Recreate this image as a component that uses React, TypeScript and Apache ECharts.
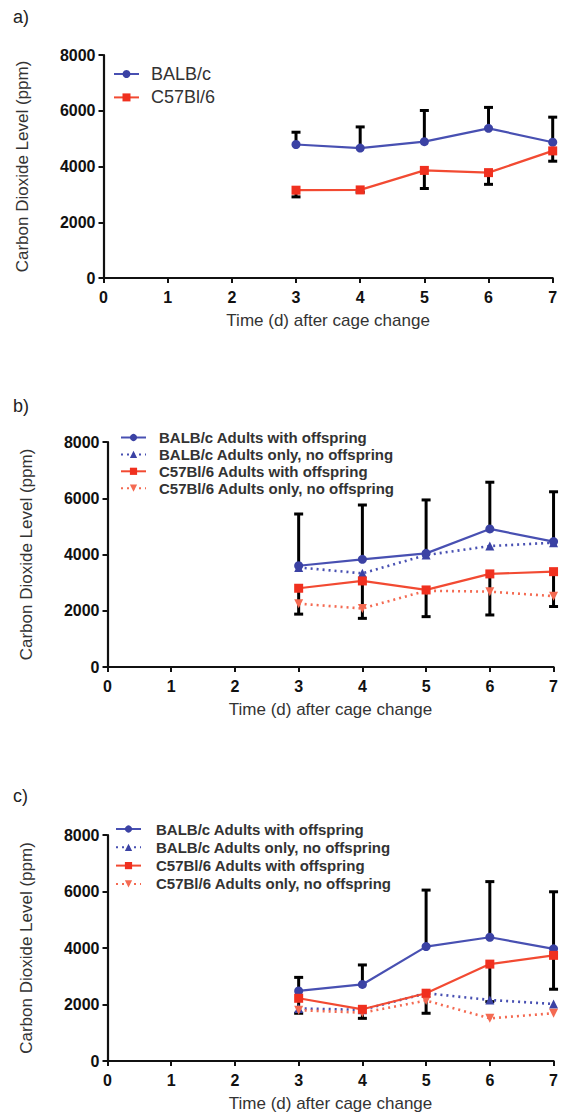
import React, { useEffect, useRef } from "react";
import * as echarts from "echarts";

// ---------- data ----------
const days = [3, 4, 5, 6, 7];
const xTicks = [0, 1, 2, 3, 4, 5, 6, 7];
const yTicks = [0, 2000, 4000, 6000, 8000];

const nameA1 = "BALB/c";
const nameA2 = "C57Bl/6";
const aBalb = [4790, 4660, 4890, 5370, 4870];
const aBalbUpper = [5230, 5420, 6010, 6120, 5770];
const aC57 = [3150, 3160, 3860, 3780, 4560];
const aC57Lower = [2910, 3080, 3210, 3360, 4190];

const nameB1 = "BALB/c Adults with offspring";
const nameB2 = "BALB/c Adults only, no offspring";
const nameB3 = "C57Bl/6 Adults with offspring";
const nameB4 = "C57Bl/6 Adults only, no offspring";

const bBalbWith = [3600, 3830, 4040, 4910, 4460];
const bBalbWithUpper = [5440, 5760, 5940, 6570, 6230];
const bBalbOnly = [3540, 3330, 3980, 4300, 4420];
const bC57With = [2800, 3060, 2740, 3310, 3390];
const bC57WithLower = [1880, 1730, 1790, 1850, 2150];
const bC57Only = [2250, 2080, 2710, 2680, 2520];

const cBalbWith = [2480, 2710, 4050, 4380, 3970];
const cBalbWithUpper = [2960, 3400, 6050, 6350, 5990];
const cBalbOnly = [1860, 1810, 2400, 2160, 2020];
const cC57With = [2220, 1830, 2400, 3430, 3740];
const cC57WithLower = [1690, 1510, 1690, 2100, 2540];
const cC57Only = [1800, 1710, 2140, 1510, 1690];

const panelLabels = ["a)", "b)", "c)"];
const xTitle = "Time (d) after cage change";
const yTitle = "Carbon Dioxide Level (ppm)";

// ---------- styles ----------
const FONT = "'Liberation Sans', Arial, sans-serif";
const BLUE = "#3b42a4";
const BLUE_LINE = "#4850b2";
const RED = "#f0301f";
const RED_LINE = "#f24a32";
const RED_DOT = "#f46a52";

const pairs = (ys: number[]) => days.map((d, i) => [d, ys[i]]);
const errData = (ys: number[], ends: number[]) => days.map((d, i) => [d, ys[i], ends[i]]);

function errSeries(idx: number, ys: number[], ends: number[]) {
  return {
    type: "custom",
    xAxisIndex: idx,
    yAxisIndex: idx,
    z: 1,
    silent: true,
    clip: false,
    encode: { x: 0, y: [1, 2] },
    data: errData(ys, ends),
    renderItem: (params: any, api: any) => {
      const p0 = api.coord([api.value(0), api.value(1)]);
      const p1 = api.coord([api.value(0), api.value(2)]);
      const st = { stroke: "#000", lineWidth: 3 };
      return {
        type: "group",
        children: [
          { type: "line", shape: { x1: p0[0], y1: p0[1], x2: p1[0], y2: p1[1] }, style: st },
          { type: "line", shape: { x1: p1[0] - 4.5, y1: p1[1], x2: p1[0] + 4.5, y2: p1[1] }, style: st },
        ],
      };
    },
  };
}

function lineSeries(idx: number, name: string, ys: number[], kind: "blue" | "blueDot" | "red" | "redDot") {
  const base: any = {
    type: "line",
    name,
    xAxisIndex: idx,
    yAxisIndex: idx,
    data: pairs(ys),
    z: 3,
    clip: false,
  };
  if (kind === "blue") {
    base.symbol = "circle";
    base.symbolSize = 9;
    base.itemStyle = { color: BLUE };
    base.lineStyle = { color: BLUE_LINE, width: 2.2 };
  } else if (kind === "blueDot") {
    base.symbol = "triangle";
    base.symbolSize = 9;
    base.itemStyle = { color: BLUE };
    base.lineStyle = { color: BLUE_LINE, width: 2.6, type: [2, 4] };
  } else if (kind === "red") {
    base.symbol = "rect";
    base.symbolSize = 9;
    base.itemStyle = { color: RED };
    base.lineStyle = { color: RED_LINE, width: 2.2 };
  } else {
    base.symbol = "triangle";
    base.symbolRotate = 180;
    base.symbolSize = 9;
    base.itemStyle = { color: RED_DOT };
    base.lineStyle = { color: RED_DOT, width: 2.6, type: [2, 4] };
  }
  return base;
}

const grids = [
  { left: 103.5, right: 8.3, top: 55, height: 223 },
  { left: 107.5, right: 4.3, top: 442, height: 225 },
  { left: 107.5, right: 4.3, top: 835, height: 226 },
];

function xAxis(idx: number) {
  return {
    type: "value",
    gridIndex: idx,
    min: 0,
    max: 7,
    interval: 1,
    splitLine: { show: false },
    axisLine: { show: true, lineStyle: { color: "#111", width: 2.2 } },
    axisTick: { show: true, length: 5, lineStyle: { color: "#111", width: 2 } },
    axisLabel: {
      margin: 11,
      fontFamily: FONT,
      fontSize: 16,
      fontWeight: "bold",
      color: "#111",
      formatter: (v: number) => (xTicks.includes(v) ? String(v) : ""),
    },
    name: xTitle,
    nameLocation: "middle",
    nameGap: 34,
    nameTextStyle: { fontFamily: FONT, fontSize: 17, color: "#333" },
  };
}

function yAxis(idx: number) {
  return {
    type: "value",
    gridIndex: idx,
    min: 0,
    max: 8000,
    interval: 2000,
    splitLine: { show: false },
    axisLine: { show: true, lineStyle: { color: "#111", width: 2.2 } },
    axisTick: { show: true, length: 5, lineStyle: { color: "#111", width: 2 } },
    axisLabel: {
      margin: 8,
      fontFamily: FONT,
      fontSize: 16,
      fontWeight: "bold",
      color: "#111",
      formatter: (v: number) => (yTicks.includes(v) ? String(v) : ""),
    },
    name: yTitle,
    nameLocation: "middle",
    nameGap: 73,
    nameTextStyle: { fontFamily: FONT, fontSize: 17, color: "#333" },
  };
}

export default function App() {
  const ref = useRef<HTMLDivElement>(null);
  useEffect(() => {
    if (!ref.current) return;
    const chart = echarts.init(ref.current, undefined, { renderer: "svg" });
    const option: any = {
      animation: false,
      backgroundColor: "#fff",
      grid: grids,
      xAxis: [xAxis(0), xAxis(1), xAxis(2)],
      yAxis: [yAxis(0), yAxis(1), yAxis(2)],
      legend: [
        {
          data: [nameA1, nameA2],
          orient: "vertical",
          left: 113,
          top: 65,
          padding: 0,
          itemWidth: 25,
          itemHeight: 10,
          itemGap: 5.4,
          selectedMode: false,
          textStyle: { fontFamily: FONT, fontSize: 18, color: "#333", padding: [0, 0, 0, 7] },
        },
        {
          data: [nameB1, nameB2, nameB3, nameB4],
          orient: "vertical",
          left: 120,
          top: 430,
          padding: 0,
          itemWidth: 25,
          itemHeight: 9,
          itemGap: 1.9,
          selectedMode: false,
          textStyle: { fontFamily: FONT, fontSize: 15, fontWeight: "bold", color: "#333", padding: [0, 0, 0, 8] },
        },
        {
          data: [nameB1, nameB2, nameB3, nameB4],
          orient: "vertical",
          left: 115,
          top: 821.5,
          padding: 0,
          itemWidth: 25,
          itemHeight: 9,
          itemGap: 3.3,
          selectedMode: false,
          textStyle: { fontFamily: FONT, fontSize: 15, fontWeight: "bold", color: "#333", padding: [0, 0, 0, 10] },
        },
      ],
      graphic: panelLabels.map((t, i) => ({
        type: "text",
        left: 13,
        top: [8, 397, 787][i],
        style: { text: t, fontFamily: FONT, fontSize: 18, fill: "#222" },
      })),
      series: [
        errSeries(0, aBalb, aBalbUpper),
        errSeries(0, aC57, aC57Lower),
        lineSeries(0, nameA1, aBalb, "blue"),
        lineSeries(0, nameA2, aC57, "red"),

        errSeries(1, bBalbWith, bBalbWithUpper),
        errSeries(1, bC57With, bC57WithLower),
        lineSeries(1, nameB2, bBalbOnly, "blueDot"),
        lineSeries(1, nameB4, bC57Only, "redDot"),
        lineSeries(1, nameB1, bBalbWith, "blue"),
        lineSeries(1, nameB3, bC57With, "red"),

        errSeries(2, cBalbWith, cBalbWithUpper),
        errSeries(2, cC57With, cC57WithLower),
        lineSeries(2, nameB2, cBalbOnly, "blueDot"),
        lineSeries(2, nameB4, cC57Only, "redDot"),
        lineSeries(2, nameB1, cBalbWith, "blue"),
        lineSeries(2, nameB3, cC57With, "red"),
      ],
    };
    chart.setOption(option);
    return () => chart.dispose();
  }, []);
  return (
    <div
      ref={ref}
      style={{ position: "absolute", left: 0, top: 0, width: 561, height: 1116, background: "#fff" }}
    />
  );
}
